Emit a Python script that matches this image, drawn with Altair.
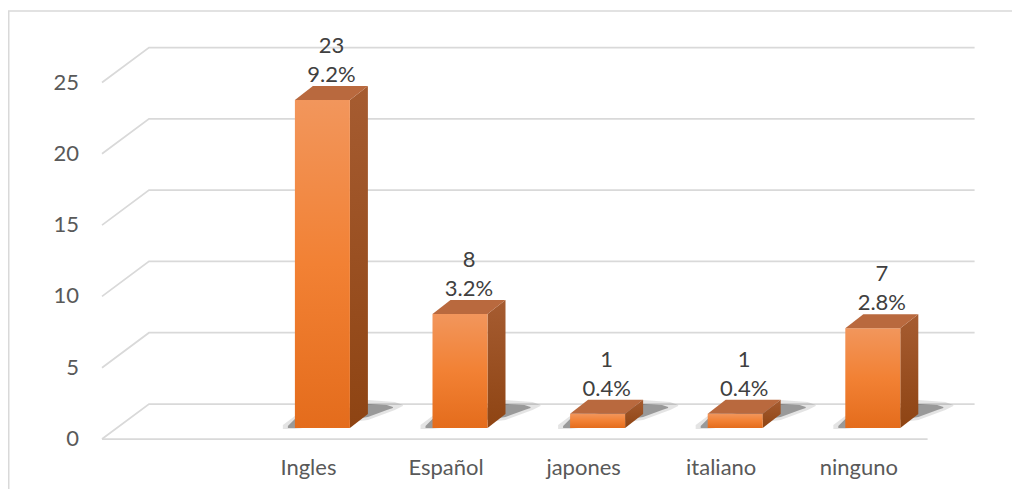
import altair as alt
import pandas as pd

# ---- data ----
categories = ["", "Ingles", "Español", "japones", "italiano", "ninguno"]  # first slot is empty in the reference
counts = [None, 23, 8, 1, 1, 7]
percents = [None, 9.2, 3.2, 0.4, 0.4, 2.8]
y_ticks = [0, 5, 10, 15, 20, 25]

# ---- geometry / style constants (pixels) ----
W, H = 1004, 481
BAND = 137.6          # px per category slot
PXV = 14.26           # px per unit of value
X0_VIEW, Y0_VIEW = 94, 431   # front-left corner of the floor inside the view
FLOOR_DX, FLOOR_DY = 47, 35  # 3-D depth of floor / walls
BAR_W, BAR_SHIFT, BAR_LIFT = 55, 14, 11
BAR_DX, BAR_DY = 18, 14
FONT = "Lato"
FS = 22


def pu(px):
    return px / BAND


def pv(px):
    return px / PXV


xs = alt.Scale(domain=[-X0_VIEW / BAND, (W - X0_VIEW) / BAND], nice=False, zero=False)
ys = alt.Scale(domain=[-(H - Y0_VIEW) / PXV, Y0_VIEW / PXV], nice=False, zero=False)
X = alt.X("x:Q", scale=xs, axis=None)
Y = alt.Y("y:Q", scale=ys, axis=None)
n_slots = len(categories)

# ---- gridlines (3-D: diagonal side wall + back wall) ----
grid_rows = []
for t in y_ticks:
    grid_rows += [
        {"tick": t, "o": 0, "x": 0, "y": t},
        {"tick": t, "o": 1, "x": pu(FLOOR_DX), "y": t + pv(FLOOR_DY)},
        {"tick": t, "o": 2, "x": n_slots + pu(FLOOR_DX), "y": t + pv(FLOOR_DY)},
    ]
grid_rows += [{"tick": -1, "o": 0, "x": 0, "y": 0}, {"tick": -1, "o": 1, "x": n_slots, "y": 0}]
grid = alt.Chart(pd.DataFrame(grid_rows)).mark_line(color="#d9d9d9", strokeWidth=1.75).encode(
    x=X, y=Y, detail="tick:N", order="o:Q")

# ---- bars ----
front, side, top, shade_out, shade_in, labels = [], [], [], [], [], []
for i, (cat, val, pct) in enumerate(zip(categories, counts, percents)):
    if val is None:
        continue
    xc = i + 0.5 + pu(BAR_SHIFT)
    x0, x1 = xc - pu(BAR_W / 2), xc + pu(BAR_W / 2)
    yb = pv(BAR_LIFT)
    yt = yb + val
    ddx, ddy = pu(BAR_DX), pv(BAR_DY)
    front.append({"id": cat, "x": x0, "x2": x1, "y": yb, "y2": yt})
    side += [{"id": cat, "x": x1, "y": yt, "y2": yb},
             {"id": cat, "x": x1 + ddx, "y": yt + ddy, "y2": yb + ddy}]
    top += [{"id": cat, "x": x0, "y": yt, "y2": yt},
            {"id": cat, "x": x0 + ddx, "y": yt + ddy, "y2": yt},
            {"id": cat, "x": x1, "y": yt + ddy, "y2": yt},
            {"id": cat, "x": x1 + ddx, "y": yt + ddy, "y2": yt + ddy}]
    # soft floor shadow (outer and inner)
    for dst, pts in ((shade_out, [(-12, -1, 3), (0, -1, 12), (73, 8, 28), (100, 18, 26), (108, 22, 23)]),
                     (shade_in, [(-7, 0, 2), (0, 0, 9), (73, 11, 24), (92, 18, 23), (98, 20, 21)])):
        for px, lo, hi in pts:
            dst.append({"id": cat, "x": x0 + pu(px), "y": yb + pv(hi), "y2": yb + pv(lo)})
    labels.append({"x": xc + pu(BAR_DX / 2), "y": yt + ddy, "num": str(val), "pct": f"{pct}%"})

front_grad = alt.Gradient(gradient="linear", x1=0, x2=0, y1=0, y2=1, stops=[
    alt.GradientStop(color="#f2965c", offset=0),
    alt.GradientStop(color="#f28134", offset=0.5),
    alt.GradientStop(color="#e46c1c", offset=1)])
side_grad = alt.Gradient(gradient="linear", x1=0, x2=0, y1=0, y2=1, stops=[
    alt.GradientStop(color="#a65c31", offset=0),
    alt.GradientStop(color="#8e4413", offset=1)])

shadow_o = alt.Chart(pd.DataFrame(shade_out)).mark_area(color="#303030", opacity=0.13).encode(
    x=X, y=Y, y2="y2:Q", detail="id:N")
shadow_i = alt.Chart(pd.DataFrame(shade_in)).mark_area(color="#202020", opacity=0.38).encode(
    x=X, y=Y, y2="y2:Q", detail="id:N")
side_l = alt.Chart(pd.DataFrame(side)).mark_area(color=side_grad).encode(
    x=X, y=Y, y2="y2:Q", detail="id:N")
top_l = alt.Chart(pd.DataFrame(top)).mark_area(color="#b9693e").encode(
    x=X, y=Y, y2="y2:Q", detail="id:N")
front_l = alt.Chart(pd.DataFrame(front)).mark_rect(color=front_grad).encode(
    x=X, x2="x2:Q", y=Y, y2="y2:Q")

lab_df = pd.DataFrame(labels)
num_l = alt.Chart(lab_df).mark_text(font=FONT, fontSize=FS, color="#404040", dy=-40, baseline="middle").encode(
    x=X, y=Y, text="num:N")
pct_l = alt.Chart(lab_df).mark_text(font=FONT, fontSize=FS, color="#404040", dy=-11, baseline="middle").encode(
    x=X, y=Y, text="pct:N")

# ---- axis labels ----
ytick_df = pd.DataFrame({"x": [0] * len(y_ticks), "y": y_ticks, "label": [str(t) for t in y_ticks]})
ytick_l = alt.Chart(ytick_df).mark_text(font=FONT, fontSize=FS, color="#595959", align="right",
                                        baseline="middle", dx=-23).encode(x=X, y=Y, text="label:N")
cat_df = pd.DataFrame({"x": [i + 0.5 for i in range(n_slots)], "y": [0] * n_slots, "label": categories})
cat_l = alt.Chart(cat_df).mark_text(font=FONT, fontSize=FS, color="#595959", baseline="middle",
                                    dy=29).encode(x=X, y=Y, text="label:N")

# ---- chart border (top and left edges visible in the reference) ----
one = pd.DataFrame({"a": [0]})
border_top = alt.Chart(one).mark_rule(color="#d9d9d9", strokeWidth=1.5).encode(
    x=alt.value(0), x2=alt.value(W), y=alt.value(3))
border_left = alt.Chart(one).mark_rule(color="#d9d9d9", strokeWidth=1.5).encode(
    x=alt.value(0.75), y=alt.value(3), y2=alt.value(H))

chart = alt.layer(
    border_top, border_left, grid, shadow_o, shadow_i, side_l, front_l, top_l,
    num_l, pct_l, ytick_l, cat_l
).properties(
    width=W, height=H, padding=0, autosize=alt.AutoSizeParams(type="none"), background="white"
).configure_view(stroke=None)

chart.save("out.html", embed_options={"renderer": "svg", "actions": False})
